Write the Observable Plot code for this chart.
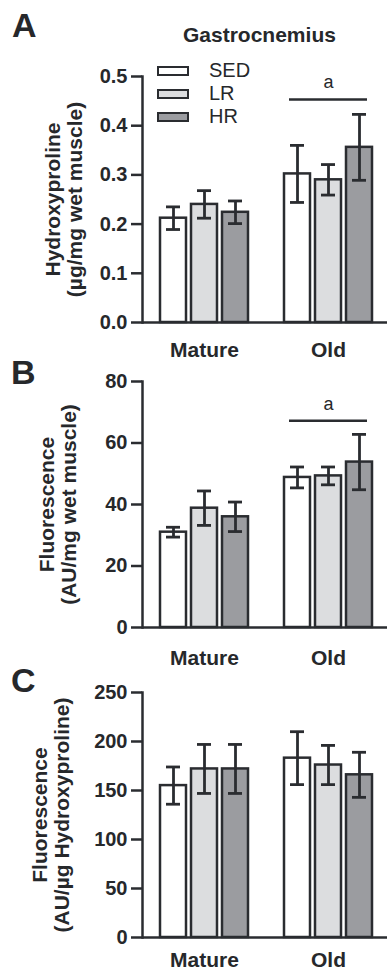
<!DOCTYPE html>
<html>
<head>
<meta charset="utf-8">
<script src="https://cdn.jsdelivr.net/npm/d3@7"></script>
<script src="https://cdn.jsdelivr.net/npm/@observablehq/plot@0.6"></script>
<style>
  html, body { margin: 0; padding: 0; background: #fff; }
  #wrap { position: relative; width: 387px; height: 977px; overflow: hidden; font-family: "Liberation Sans", Arial, sans-serif; color: #26282b; }
  #wrap svg { display: block; }
  .letter { position: absolute; font-weight: bold; font-size: 34px; line-height: 34px; }
  .title { position: absolute; font-weight: bold; font-size: 21px; line-height: 21px; white-space: nowrap; }
  .legend { position: absolute; left: 157px; top: 59px; }
  .legend .row { display: flex; align-items: center; height: 23px; }
  .legend .sw { width: 28px; height: 6px; border: 2.5px solid #2a2c30; box-sizing: content-box; }
  .legend .lab { margin-left: 20px; font-size: 20px; line-height: 23px; }
</style>
</head>
<body>
<div id="wrap"></div>
<script>
// ---- data ----
const groups = ["Mature", "Old"];
const conditions = ["SED", "LR", "HR"];
const fills = ["#ffffff", "#dcdddf", "#9b9ca0"];

// order: Mature SED, LR, HR, Old SED, LR, HR
const hypMean = [0.212, 0.240, 0.224, 0.302, 0.290, 0.356];
const hypErr  = [0.023, 0.028, 0.023, 0.058, 0.031, 0.067];
const wetMean = [31.0, 38.8, 36.0, 48.8, 49.3, 53.8];
const wetErr  = [1.6, 5.6, 4.8, 3.4, 2.9, 9.0];
const perHypMean = [155, 172, 172, 183, 176, 166];
const perHypErr  = [19, 25, 25, 27, 20, 23];

const ticksA = [0, 0.1, 0.2, 0.3, 0.4, 0.5];
const ticksB = [0, 20, 40, 60, 80];
const ticksC = [0, 50, 100, 150, 200, 250];

const sigA = [{group: "Old", from: "SED", to: "HR", mid: "LR", y: 0.453, label: "a"}];
const sigB = [{group: "Old", from: "SED", to: "HR", mid: "LR", y: 67.2, label: "a"}];

const ink = "#2a2c30";
const font = "Liberation Sans, Arial, sans-serif";

function panel({means, errs, domain, ticks, tickFormat, title, titleDx, height, marginTop, marginBottom, sig, fxPad}) {
  const data = groups.flatMap((g, gi) => conditions.map((c, ci) => ({
    group: g, cond: c, value: means[gi * 3 + ci], err: errs[gi * 3 + ci]
  })));
  const marks = [
    Plot.barY(data, {fx: "group", x: "cond", y: "value", fill: "cond", stroke: ink, strokeWidth: 2.5}),
    Plot.ruleX(data, {fx: "group", x: "cond", y1: d => d.value - d.err, y2: d => d.value + d.err, stroke: ink, strokeWidth: 2.8}),
    Plot.tickY(data, {fx: "group", x: "cond", y: d => d.value + d.err, stroke: ink, strokeWidth: 2.8, insetLeft: 6, insetRight: 6}),
    Plot.tickY(data, {fx: "group", x: "cond", y: d => d.value - d.err, stroke: ink, strokeWidth: 2.8, insetLeft: 6, insetRight: 6}),
    Plot.ruleY([0], {stroke: ink, strokeWidth: 2.5}),
    Plot.frame({anchor: "left", facetAnchor: "left", stroke: ink, strokeWidth: 2.5}),
    Plot.axisY({ticks, tickFormat, tickSize: 11, tickPadding: 4, fontSize: 20, fontWeight: "bold", stroke: ink, strokeWidth: 2.5, label: null}),
    Plot.axisFx({anchor: "bottom", tickSize: 0, tickPadding: fxPad, fontSize: 21, fontWeight: "bold", label: null}),
    Plot.text([title], {text: d => d, frameAnchor: "left", facetAnchor: "left", dx: titleDx, rotate: -90,
      textAnchor: "middle", lineAnchor: "middle", lineHeight: 1.05, fontSize: 21, fontWeight: "bold"})
  ];
  if (sig) {
    marks.push(Plot.ruleY(sig, {fx: "group", x1: "from", x2: "to", y: "y", stroke: ink, strokeWidth: 2.5, insetLeft: 5, insetRight: 5}));
    marks.push(Plot.text(sig, {fx: "group", x: "mid", y: "y", text: "label", dy: -17, fontSize: 18, lineAnchor: "middle"}));
  }
  return Plot.plot({
    width: 387, height, marginLeft: 142, marginRight: 0, marginTop, marginBottom,
    style: {fontFamily: font, color: "#26282b", background: "transparent", overflow: "visible"},
    fx: {domain: groups, range: [141.5, 389.5], padding: 0, label: null},
    x: {domain: conditions, paddingInner: 0.16, paddingOuter: 0.555, axis: null},
    y: {domain, axis: null},
    color: {domain: conditions, range: fills},
    marks
  });
}

const wrap = document.getElementById("wrap");
wrap.append(panel({means: hypMean, errs: hypErr, domain: [0, 0.5], ticks: ticksA, tickFormat: d3.format(".1f"),
  title: "Hydroxyproline\n(µg/mg wet muscle)", titleDx: -79, height: 360, marginTop: 76, marginBottom: 38, sig: sigA, fxPad: 20}));
wrap.append(panel({means: wetMean, errs: wetErr, domain: [0, 80], ticks: ticksB, tickFormat: d3.format("d"),
  title: "Fluorescence\n(AU/mg wet muscle)", titleDx: -85, height: 310, marginTop: 21, marginBottom: 43, sig: sigB, fxPad: 23}));
wrap.append(panel({means: perHypMean, errs: perHypErr, domain: [0, 250], ticks: ticksC, tickFormat: d3.format("d"),
  title: "Fluorescence\n(AU/µg Hydroxyproline)", titleDx: -92, height: 307, marginTop: 22, marginBottom: 40, sig: null, fxPad: 15}));

// letters and heading
const overlays = [
  {cls: "letter", text: "A", left: 12, top: 8},
  {cls: "letter", text: "B", left: 11, top: 355},
  {cls: "letter", text: "C", left: 11, top: 663},
  {cls: "title", text: "Gastrocnemius", left: 183, top: 24}
];
for (const o of overlays) {
  const el = document.createElement("div");
  el.className = o.cls; el.textContent = o.text;
  el.style.left = o.left + "px"; el.style.top = o.top + "px";
  wrap.append(el);
}
// legend
const legend = document.createElement("div");
legend.className = "legend";
conditions.forEach((c, i) => {
  const row = document.createElement("div"); row.className = "row";
  const sw = document.createElement("div"); sw.className = "sw"; sw.style.background = fills[i];
  const lab = document.createElement("div"); lab.className = "lab"; lab.textContent = c;
  row.append(sw, lab); legend.append(row);
});
wrap.append(legend);
</script>
</body>
</html>
